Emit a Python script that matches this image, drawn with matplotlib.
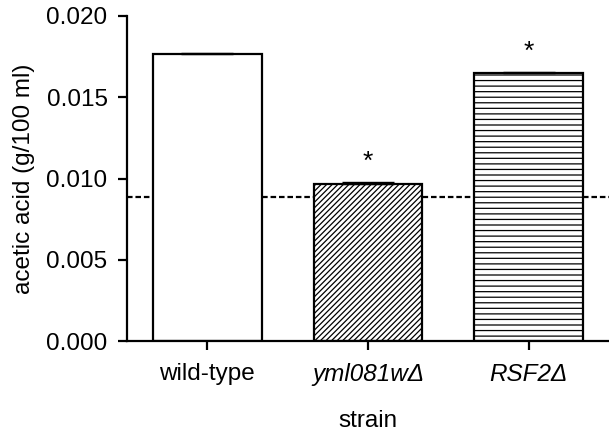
import matplotlib
matplotlib.use("Agg")
import matplotlib.pyplot as plt

plt.rcParams['font.family'] = ['Liberation Sans', 'DejaVu Sans']
plt.rcParams['hatch.linewidth'] = 0.9

strains = ["wild-type", "yml081w\u0394", "RSF2\u0394"]
values = [0.01764, 0.00966, 0.01648]
errors = [0.00008, 0.00012, 0.00008]
hatches = ["", "//////", "---"]
significant = [False, True, True]
baseline = 0.00886

fig = plt.figure(figsize=(6.09, 4.32), dpi=100)
ax = fig.add_axes([0.2085, 0.2106, 0.7915, 0.7524])

x = list(range(len(strains)))
ax.axhline(baseline, color='black', linestyle=(0, (2.5, 1.3)), linewidth=1.6, zorder=1)
bars = ax.bar(x, values, width=0.675, color='white', edgecolor='black',
              linewidth=1.6, zorder=2)
for b, h in zip(bars, hatches):
    b.set_hatch(h)
ax.errorbar(x, values, yerr=[[0]*len(errors), errors], fmt='none', ecolor='black',
            elinewidth=1.0, capsize=19, capthick=1.0, zorder=3)
for xi, v, e, s in zip(x, values, errors, significant):
    if s:
        ax.text(xi, v + e + 0.0005, "*", ha='center', va='bottom', fontsize=19)

ax.set_xlim(-0.5, 2.5)
ax.set_ylim(0, 0.020)
ax.set_yticks([0.000, 0.005, 0.010, 0.015, 0.020])
ax.set_yticklabels(["0.000", "0.005", "0.010", "0.015", "0.020"])
ax.set_xticks(x)
ax.set_xticklabels(strains)
for lbl in ax.get_xticklabels()[1:]:
    lbl.set_style('italic')
ax.tick_params(axis='both', labelsize=17.5, length=6.5, width=1.6, direction='out')
ax.tick_params(axis='y', pad=7.5)
ax.tick_params(axis='x', pad=9.5)
ax.spines['top'].set_visible(False)
ax.spines['right'].set_visible(False)
ax.spines['left'].set_linewidth(1.6)
ax.spines['bottom'].set_linewidth(1.6)
ax.set_ylabel("acetic acid (g/100 ml)", fontsize=17.5, labelpad=8)
ax.set_xlabel("strain", fontsize=17.5, labelpad=17)

fig.savefig("out.png", dpi=100)
